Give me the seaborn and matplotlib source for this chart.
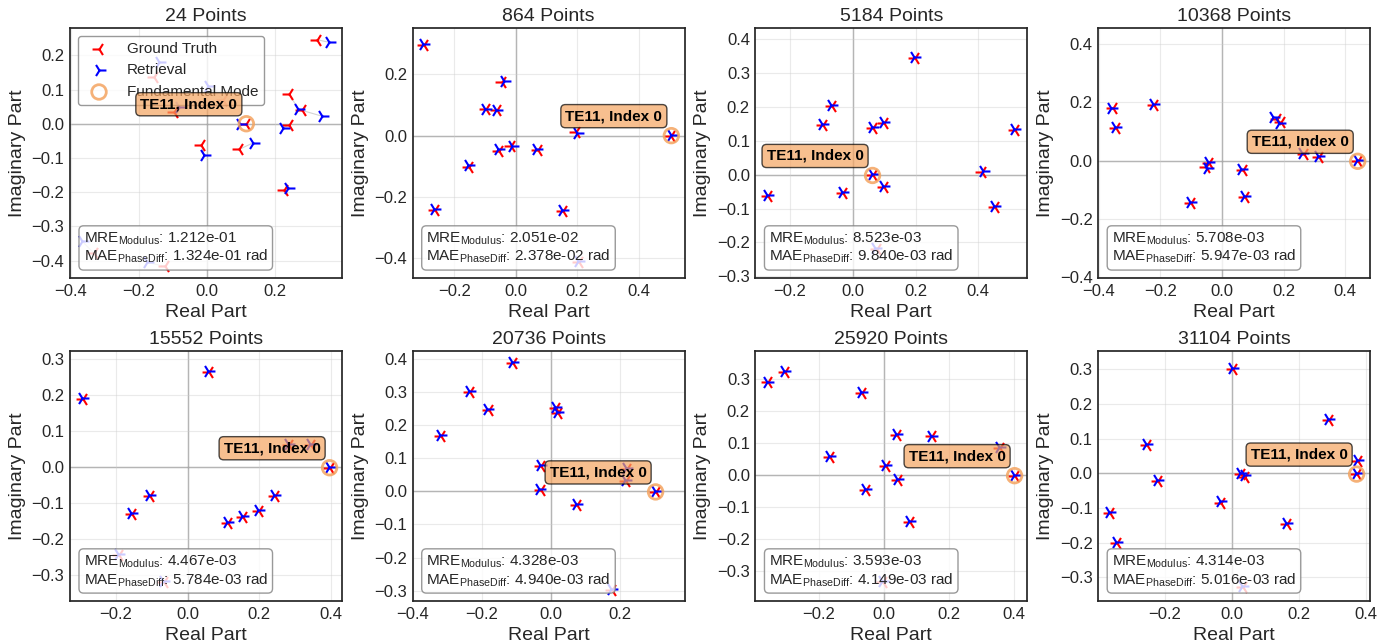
import numpy as np
import pandas as pd
import matplotlib
matplotlib.use("Agg")
import matplotlib.pyplot as plt
from matplotlib.ticker import MultipleLocator
import seaborn as sns

# ---------------------------------------------------------------- data
point_counts = [24, 864, 5184, 10368, 15552, 20736, 25920, 31104]

mre_modulus = [1.212e-01, 2.051e-02, 8.523e-03, 5.708e-03,
               4.467e-03, 4.328e-03, 3.593e-03, 4.314e-03]
mae_phase = [1.324e-01, 2.378e-02, 9.840e-03, 5.947e-03,
             5.784e-03, 4.940e-03, 4.149e-03, 5.016e-03]

# eigenvalues: index 0 is the fundamental mode (TE11)
gt_real = [
    [0.117, 0.324, -0.154, 0.049, -0.095, 0.244, 0.281, 0.242, -0.015, 0.096, 0.229, -0.332, -0.122],
    [0.507, -0.298, -0.044, -0.096, -0.061, 0.196, -0.017, -0.056, 0.071, -0.152, -0.262, 0.153, 0.207],
    [0.063, 0.199, -0.067, -0.096, 0.064, 0.101, 0.518, 0.413, 0.101, -0.030, -0.269, 0.454, 0.076],
    [0.441, -0.355, -0.344, -0.220, 0.178, 0.192, 0.266, 0.316, -0.041, -0.051, 0.067, 0.076, -0.101],
    [0.396, -0.291, 0.060, -0.105, -0.154, -0.191, -0.066, 0.243, 0.199, 0.155, 0.114, 0.283, 0.343],
    [0.304, -0.110, -0.234, -0.181, -0.318, 0.016, 0.022, -0.028, -0.030, 0.075, 0.220, 0.218, 0.177],
    [0.402, -0.356, -0.303, -0.066, -0.164, 0.040, 0.148, 0.007, 0.045, -0.053, 0.081, 0.357, -0.003],
    [0.373, 0.005, 0.290, -0.251, -0.219, 0.378, 0.028, 0.041, -0.031, 0.165, -0.364, -0.341, 0.033],
]
gt_imag = [
    [0.000, 0.246, 0.136, 0.070, 0.035, 0.088, 0.039, -0.004, -0.063, -0.075, -0.195, -0.378, -0.417],
    [0.000, 0.297, 0.174, 0.088, 0.084, 0.011, -0.034, -0.049, -0.046, -0.101, -0.241, -0.246, -0.413],
    [-0.002, 0.346, 0.202, 0.146, 0.139, 0.153, 0.133, 0.008, -0.037, -0.054, -0.064, -0.094, -0.219],
    [-0.002, 0.179, 0.113, 0.192, 0.143, 0.131, 0.022, 0.013, -0.008, -0.021, -0.031, -0.124, -0.144],
    [-0.002, 0.188, 0.265, -0.081, -0.131, -0.245, -0.319, -0.080, -0.123, -0.138, -0.155, 0.061, 0.061],
    [-0.002, 0.386, 0.298, 0.246, 0.168, 0.250, 0.236, 0.075, 0.005, -0.042, 0.068, 0.030, -0.298],
    [-0.002, 0.288, 0.322, 0.255, 0.055, 0.124, 0.120, 0.029, -0.014, -0.047, -0.147, 0.083, -0.334],
    [-0.002, 0.301, 0.155, 0.083, -0.023, 0.036, -0.002, -0.009, -0.084, -0.146, -0.115, -0.202, -0.327],
]
ret_real = [
    [0.097, 0.361, -0.141, 0.005, -0.080, 0.268, 0.340, 0.224, -0.007, 0.137, 0.239, -0.366, -0.176],
    [0.505, -0.301, -0.040, -0.100, -0.064, 0.199, -0.012, -0.059, 0.067, -0.155, -0.266, 0.150, 0.202],
    [0.061, 0.196, -0.070, -0.099, 0.060, 0.097, 0.515, 0.416, 0.097, -0.033, -0.272, 0.451, 0.072],
    [0.439, -0.359, -0.347, -0.223, 0.165, 0.186, 0.261, 0.313, -0.045, -0.048, 0.063, 0.073, -0.104],
    [0.394, -0.294, 0.057, -0.108, -0.157, -0.194, -0.069, 0.240, 0.196, 0.152, 0.111, 0.280, 0.340],
    [0.302, -0.113, -0.237, -0.184, -0.321, 0.013, 0.019, -0.031, -0.033, 0.072, 0.217, 0.215, 0.174],
    [0.400, -0.359, -0.306, -0.069, -0.167, 0.037, 0.145, 0.004, 0.042, -0.056, 0.078, 0.354, -0.006],
    [0.371, 0.002, 0.287, -0.254, -0.222, 0.375, 0.025, 0.038, -0.034, 0.162, -0.367, -0.344, 0.030],
]
ret_imag = [
    [0.000, 0.238, 0.180, 0.109, 0.050, 0.044, 0.022, -0.012, -0.091, -0.056, -0.187, -0.344, -0.405],
    [0.001, 0.300, 0.178, 0.086, 0.085, 0.008, -0.035, -0.045, -0.042, -0.097, -0.238, -0.242, -0.408],
    [0.001, 0.349, 0.205, 0.149, 0.142, 0.157, 0.136, 0.011, -0.034, -0.051, -0.061, -0.091, -0.216],
    [0.001, 0.182, 0.116, 0.195, 0.150, 0.128, 0.025, 0.016, -0.004, -0.024, -0.028, -0.121, -0.141],
    [0.001, 0.191, 0.268, -0.078, -0.128, -0.242, -0.316, -0.077, -0.120, -0.135, -0.152, 0.064, 0.064],
    [0.001, 0.389, 0.301, 0.249, 0.171, 0.253, 0.239, 0.078, 0.008, -0.039, 0.071, 0.033, -0.295],
    [0.001, 0.291, 0.325, 0.258, 0.058, 0.127, 0.123, 0.032, -0.011, -0.044, -0.144, 0.086, -0.331],
    [0.001, 0.304, 0.158, 0.086, -0.020, 0.039, 0.001, -0.006, -0.081, -0.143, -0.112, -0.199, -0.324],
]

# axis ranges and tick spacing per panel
x_limits = [(-0.402, 0.398), (-0.336, 0.550), (-0.310, 0.556), (-0.402, 0.481),
            (-0.328, 0.430), (-0.401, 0.388), (-0.394, 0.441), (-0.398, 0.413)]
y_limits = [(-0.451, 0.280), (-0.464, 0.351), (-0.305, 0.434), (-0.402, 0.455),
            (-0.373, 0.323), (-0.331, 0.423), (-0.392, 0.386), (-0.368, 0.353)]
y_steps = [0.1, 0.2, 0.1, 0.2, 0.1, 0.1, 0.1, 0.1]

# ---------------------------------------------------------------- style
sns.set_theme(style="white")
plt.rcParams["font.family"] = ["Liberation Sans", "DejaVu Sans"]
plt.rcParams["mathtext.fontset"] = "custom"
plt.rcParams["mathtext.rm"] = "Liberation Sans"
plt.rcParams["mathtext.it"] = "Liberation Sans:italic"
plt.rcParams["axes.edgecolor"] = ".15"
plt.rcParams["axes.linewidth"] = 1.25

GT_COLOR = "red"
RET_COLOR = "blue"
FUND_COLOR = "#F4A460"
TEXT_COLOR = ".15"

fig, axes = plt.subplots(2, 4, figsize=(13.83, 6.43), dpi=100)
fig.subplots_adjust(left=0.0506, right=0.9906, top=0.9565, bottom=0.0653,
                    wspace=0.261, hspace=0.292)

for i, ax in enumerate(axes.flat):
    df = pd.DataFrame({
        "gt_re": gt_real[i], "gt_im": gt_imag[i],
        "ret_re": ret_real[i], "ret_im": ret_imag[i],
    })

    # reference axes through the origin
    ax.axhline(0, color="black", lw=1.0, alpha=0.35, zorder=0.5)
    ax.axvline(0, color="black", lw=1.0, alpha=0.35, zorder=0.5)

    # thin link between each true eigenvalue and its retrieved counterpart
    for _, r in df.iterrows():
        ax.plot([r.gt_re, r.ret_re], [r.gt_im, r.ret_im],
                color="gray", lw=0.8, alpha=0.35, zorder=0.8)

    sns.scatterplot(data=df, x="gt_re", y="gt_im", marker="3", color=GT_COLOR,
                    s=100, linewidth=1.5, label="Ground Truth", ax=ax, zorder=2)
    sns.scatterplot(data=df, x="ret_re", y="ret_im", marker="4", color=RET_COLOR,
                    s=100, linewidth=1.5, label="Retrieval", ax=ax, zorder=2)

    # fundamental mode
    fx, fy = df.gt_re.iloc[0], df.gt_im.iloc[0]
    ax.scatter([fx], [fy], s=110, facecolors="none", edgecolors=FUND_COLOR,
               linewidths=2, alpha=0.85, label="Fundamental Mode", zorder=2.5)
    ax.annotate("TE11, Index 0", xy=(fx, fy), xytext=(-6.5, 9),
                textcoords="offset points", ha="right", va="bottom",
                fontsize=11, fontweight="bold", color="black",
                bbox=dict(boxstyle="round,pad=0.3", fc=FUND_COLOR, ec="black",
                          alpha=0.7),
                zorder=10)

    # error summary
    ax.text(0.05, 0.05,
            r"$\mathrm{MRE}_{\mathrm{Modulus}}$" + f": {mre_modulus[i]:.3e}\n"
            + r"$\mathrm{MAE}_{\mathrm{PhaseDiff}}$" + f": {mae_phase[i]:.3e} rad",
            transform=ax.transAxes, ha="left", va="bottom", fontsize=11,
            color=TEXT_COLOR, linespacing=1.1,
            bbox=dict(boxstyle="round,pad=0.3", fc="white", ec="gray", alpha=0.8),
            zorder=6)

    ax.set_xlim(*x_limits[i])
    ax.set_ylim(*y_limits[i])
    ax.xaxis.set_major_locator(MultipleLocator(0.2))
    ax.yaxis.set_major_locator(MultipleLocator(y_steps[i]))
    ax.grid(True, color=".8", lw=0.8, alpha=0.4)
    ax.tick_params(length=0, pad=4, labelsize=12, colors=TEXT_COLOR)
    ax.set_title(f"{point_counts[i]} Points", fontsize=14, color=TEXT_COLOR, pad=5)
    ax.set_xlabel("Real Part", fontsize=14, color=TEXT_COLOR)
    ax.set_ylabel("Imaginary Part", fontsize=14, color=TEXT_COLOR)
    for sp in ax.spines.values():
        sp.set_visible(True)
        sp.set_color(".15")

    if i == 0:
        ax.legend(loc="upper left", fontsize=11, frameon=True, framealpha=0.8,
                  edgecolor="gray")
    else:
        leg = ax.get_legend()
        if leg is not None:
            leg.remove()

fig.savefig("out.png", dpi=100)
